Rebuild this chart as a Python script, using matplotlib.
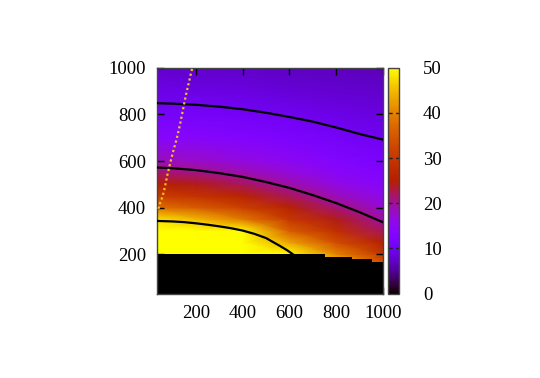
import numpy as np
import matplotlib
matplotlib.use('Agg')
import matplotlib.pyplot as plt

# grid (x columns, y rows), value of the field
grid_x = [35, 200, 400, 600, 800, 1000]
grid_y = [160, 200, 250, 300, 350, 400, 450, 500, 550, 600, 700, 800, 900, 1000]
field = [
  [110.0, 105.0, 95.0, 60.0, 47.0, 34.0],
  [100.0, 95.0, 86.0, 53.3, 40.2, 29.6],
  [80.0, 76.0, 66.0, 43.2, 33.4, 25.4],
  [62.9, 58.0, 49.7, 35.7, 28.3, 22.1],
  [47.9, 44.8, 38.9, 30.0, 24.3, 19.4],
  [37.8, 35.7, 31.5, 25.6, 21.1, 17.3],
  [30.7, 29.2, 26.1, 22.1, 18.5, 15.5],
  [25.5, 24.3, 22.1, 19.2, 16.4, 14.0],
  [21.5, 20.7, 19.0, 16.9, 14.6, 12.7],
  [18.4, 17.8, 16.5, 15.0, 13.2, 11.6],
  [14.0, 13.7, 12.9, 12.0, 10.8, 9.9],
  [11.1, 10.9, 10.5, 9.8, 9.1, 8.5],
  [9.0, 8.9, 8.7, 8.2, 7.7, 7.5],
  [7.5, 7.4, 7.3, 6.9, 6.7, 6.6],
]

# contour lines
c1_x = [35, 100, 150, 200, 250, 300, 350, 400, 450, 500, 530, 560, 590, 616]
c1_y = [343, 341, 338, 333, 327, 320, 312, 302, 288, 270, 253, 236, 218, 200]
c2_x = [35, 100, 200, 300, 400, 500, 600, 700, 800, 900, 1000]
c2_y = [572, 569, 561, 548, 532, 510, 485, 454, 420, 381, 338]
c3_x = [35, 100, 200, 300, 400, 500, 600, 700, 800, 900, 1000]
c3_y = [848, 846, 841, 833, 822, 807, 789, 769, 744, 716, 692]

# dotted line
dot_x = [40, 47, 58, 68, 78, 90, 104, 118, 133, 147, 158, 172, 185]
dot_y = [395, 420, 450, 490, 540, 590, 645, 695, 760, 830, 885, 945, 1000]

# black (no data) region upper edge
edge_x = [35, 755, 870, 955, 1000]
edge_y = [202, 190, 178, 166, 166]

xmin, xmax, ymin, ymax = 35, 1000, 32, 1000
cb_ticks = [0, 10, 20, 30, 40, 50]

plt.rcParams['font.family'] = 'Liberation Serif'
plt.rcParams['font.size'] = 13.5

fig = plt.figure(figsize=(5.4, 3.78), dpi=100)
ax = fig.add_axes([0.2913, 0.2235, 0.4174, 0.5974])
cax = fig.add_axes([0.7191, 0.2235, 0.0204, 0.5974])

X, Y = np.meshgrid(grid_x, grid_y)
mesh = ax.pcolormesh(X, Y, np.array(field), cmap='gnuplot', vmin=0, vmax=50,
                     shading='gouraud', rasterized=True)

ax.fill_between(edge_x, ymin, edge_y, step='post', color='black', lw=0, zorder=2)

for cx, cy in [(c1_x, c1_y), (c2_x, c2_y), (c3_x, c3_y)]:
  ax.plot(cx, cy, color='black', lw=1.6, zorder=3)

ax.plot(dot_x, dot_y, color='#f2c020', lw=1.6, ls=(0, (1, 1.2)), zorder=4)

ax.set_xlim(xmin, xmax)
ax.set_ylim(ymin, ymax)
ax.set_xticks([200, 400, 600, 800, 1000])
ax.set_yticks([200, 400, 600, 800, 1000])
ax.tick_params(direction='in', length=5, width=1, top=True, right=True, pad=8)
for s in ax.spines.values():
  s.set_color('#444444')
  s.set_linewidth(1)

cb = fig.colorbar(mesh, cax=cax)
cb.set_ticks(cb_ticks)
cb.ax.tick_params(length=0, pad=17)
cb.outline.set_edgecolor('#444444')
cb.outline.set_linewidth(1)
for v in cb_ticks[1:-1]:
  cax.axhline(v, color='#222222', lw=1, ls=(0, (3, 2.5)))

plt.savefig('out.png', dpi=100)
